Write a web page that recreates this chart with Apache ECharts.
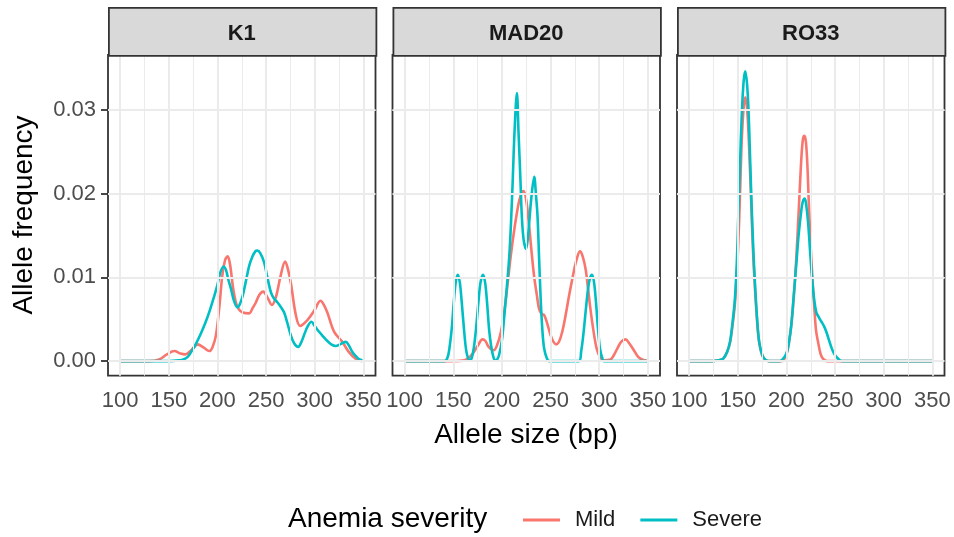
<!DOCTYPE html>
<html>
<head>
<meta charset="utf-8">
<script src="https://cdn.jsdelivr.net/npm/echarts@6/dist/echarts.min.js"></script>
<style>
  html, body { margin: 0; padding: 0; background: #fff; }
  #chart { width: 954px; height: 537px; }
</style>
</head>
<body>
<div id="chart"></div>
<script>
// facets and tick values
const panels = ['K1', 'MAD20', 'RO33']
const xTicks = [100, 150, 200, 250, 300, 350]
const xMinor = [125, 175, 225, 275, 325]
const yTicks = [0, 0.01, 0.02, 0.03]
const yMinor = [0.005, 0.015, 0.025, 0.035]

// density curves: [allele size, frequency]
const k1Mild = [[100,0],[130,0],[140,0.0002],[148,0.0008],[155.7,0.0012],[162,0.0009],[167,0.0008],[173,0.0013],[179.7,0.002],[186,0.0016],[191.6,0.0012],[195,0.0017],[198.5,0.0031],[202,0.0065],[205,0.0102],[208,0.0121],[210.5,0.0125],[213,0.0115],[216,0.0088],[219,0.007],[222,0.0062],[226,0.0058],[232.7,0.0057],[236,0.0063],[239.5,0.007],[243,0.0079],[247,0.0083],[251,0.0077],[256,0.0067],[260,0.0076],[265,0.0102],[269.6,0.0119],[272,0.0112],[275.4,0.0094],[280.6,0.0055],[285,0.0042],[292.5,0.0049],[299.4,0.006],[306,0.0072],[309,0.0068],[313,0.0058],[320,0.0035],[328.4,0.0023],[335,0.0011],[342,0.0003],[349,0]]
const k1Severe = [[100,0],[150,0],[161,0.0001],[165,0.0002],[169.4,0.0005],[173,0.0011],[178,0.0021],[183,0.0033],[188,0.0047],[192,0.006],[196.8,0.0078],[200,0.0091],[203,0.0106],[206.4,0.0113],[209,0.0108],[211,0.0098],[214,0.0086],[217,0.0072],[220.7,0.0064],[223,0.0068],[226,0.0078],[229,0.0094],[232.7,0.0114],[236,0.0125],[239,0.0131],[241,0.0132],[244,0.0129],[248,0.0118],[251,0.0102],[255,0.0082],[258,0.0075],[261.8,0.007],[265,0.0065],[268.6,0.0058],[272,0.0045],[275.4,0.0031],[279,0.0021],[283,0.0017],[286,0.0022],[289,0.0031],[293,0.0042],[296.6,0.0047],[300,0.0042],[304.5,0.0035],[309,0.0029],[313,0.0024],[317,0.002],[321.6,0.0018],[326,0.002],[329,0.0022],[332,0.0023],[335,0.0019],[338.7,0.0011],[343,0.0005],[346,0.0002],[349,0.0001]]
const mad20Mild = [[100,0],[150,0],[161.5,0.0001],[166,0.0004],[170,0.0009],[175,0.0018],[180,0.0026],[183,0.0024],[186.4,0.0017],[191.5,0.0013],[195,0.0019],[199,0.0035],[202.5,0.006],[206,0.0094],[209,0.0125],[212.7,0.0157],[216,0.0181],[219,0.0197],[222.3,0.0203],[225,0.0192],[228,0.0161],[230.5,0.013],[233,0.0102],[236,0.0078],[238.3,0.0062],[241,0.0056],[243.4,0.0055],[246.5,0.0045],[250,0.0031],[253,0.0023],[256,0.002],[259,0.0024],[262,0.0035],[265.5,0.0055],[269,0.0078],[272.5,0.0099],[276,0.0118],[280.3,0.0131],[283,0.0125],[286,0.011],[288.5,0.0087],[291,0.0062],[294,0.0037],[297.4,0.0015],[301,0.0005],[305,0.0001],[311.7,0.0002],[315,0.0007],[318.6,0.0015],[322.5,0.0023],[327,0.0026],[331,0.0021],[335.6,0.0013],[340,0.0005],[344,0.0002],[350,0]]
const mad20Severe = [[100,0],[141,0],[144,0.0004],[146,0.0015],[148.5,0.004],[150.5,0.007],[152.5,0.0094],[154.6,0.0103],[156.7,0.0094],[158.7,0.007],[161,0.0038],[163,0.0015],[165,0.0004],[167,0.0001],[169,0.0004],[171,0.0015],[173.5,0.004],[175.8,0.007],[178,0.0094],[180.6,0.0103],[182.7,0.0094],[184.7,0.007],[186.8,0.0038],[188.8,0.0019],[191,0.0006],[193,0.0001],[195,0.0002],[197,0.0007],[200,0.0025],[202.5,0.0055],[205,0.0088],[207.6,0.0126],[209.5,0.017],[211,0.0213],[213,0.0275],[215.4,0.032],[217,0.0275],[218.9,0.022],[220.5,0.0172],[222.3,0.0145],[224.7,0.0134],[226.5,0.0145],[228,0.0165],[230.5,0.0198],[233.2,0.022],[235,0.0198],[236.6,0.0173],[238.3,0.012],[240,0.007],[241.7,0.0035],[243.4,0.0015],[246,0.0004],[248.6,0],[279,0],[281.5,0.0012],[284,0.0035],[286.3,0.0062],[288.5,0.0086],[290.5,0.0099],[292.6,0.0103],[294.7,0.0094],[296.7,0.007],[298.8,0.0038],[300.8,0.0015],[303,0.0004],[305,0],[350,0]]
const ro33Mild = [[100,0],[125,0],[130,0.0001],[135,0.0003],[139,0.0011],[142,0.0022],[144.5,0.0042],[147,0.0068],[149,0.0105],[150.5,0.014],[152.3,0.02],[154,0.0262],[156,0.0303],[157.7,0.0315],[159.5,0.0302],[161,0.0272],[162.5,0.023],[164,0.0182],[165.8,0.0128],[167.6,0.0088],[170,0.0045],[172,0.0022],[175,0.0007],[178,0.0002],[182,0],[195,0],[198,0.0003],[201,0.0012],[203,0.0025],[205,0.0043],[207.5,0.0076],[210.3,0.0126],[212,0.0165],[213.7,0.0205],[215.5,0.0245],[217,0.0265],[218.5,0.0269],[220,0.0262],[221.5,0.0235],[223,0.0189],[225,0.0135],[227,0.0094],[229,0.0058],[230.5,0.0036],[232.5,0.0023],[235,0.0009],[237.5,0.0003],[242,0],[350,0]]
const ro33Severe = [[100,0],[125,0],[130,0.0001],[135,0.0003],[139,0.0011],[142,0.0023],[144.5,0.0045],[147,0.0074],[149,0.0118],[150.5,0.0173],[152.3,0.0235],[154,0.0292],[156,0.0334],[157.7,0.0346],[159.5,0.0331],[161,0.03],[162.5,0.0248],[164,0.0193],[165.8,0.0137],[167.6,0.0094],[170,0.0048],[172,0.0023],[175,0.0008],[178,0.0002],[182,0],[193,0],[196,0.0002],[200,0.0009],[202.5,0.0022],[205,0.0043],[207.5,0.0078],[210.3,0.0118],[212.5,0.015],[215.4,0.0181],[217,0.0191],[218.9,0.0194],[220.5,0.0185],[222.3,0.0165],[224.5,0.0128],[226.7,0.0094],[228.7,0.0072],[230.8,0.0058],[233.5,0.0052],[236,0.0047],[238.5,0.0042],[241,0.0035],[243.5,0.0026],[246,0.0017],[248.5,0.001],[251.3,0.0005],[255,0.0001],[258,0],[350,0]]

const mildData = [k1Mild, mad20Mild, ro33Mild]
const severeData = [k1Severe, mad20Severe, ro33Severe]

const FONT = '"Liberation Sans", Arial, sans-serif'
const MILD = '#F8766D'
const SEVERE = '#00BFC4'

// panel geometry
const panelLeft = [108, 392.5, 677]
const panelW = 267.5
const panelTop = 55
const panelH = 320.7
const stripTop = 7

const chart = echarts.init(document.getElementById('chart'), null, { renderer: 'canvas' })

const grids = [], xAxes = [], yAxes = [], series = [], graphics = []

const gridLines = () => [
  ...xTicks.map(v => ({ xAxis: v, lineStyle: { color: '#ebebeb', width: 2, type: 'solid' } })),
  ...xMinor.map(v => ({ xAxis: v, lineStyle: { color: '#ebebeb', width: 1, type: 'solid' } })),
  ...yTicks.map(v => ({ yAxis: v, lineStyle: { color: '#ebebeb', width: 2, type: 'solid' } })),
  ...yMinor.map(v => ({ yAxis: v, lineStyle: { color: '#ebebeb', width: 1, type: 'solid' } }))
]

panels.forEach((name, i) => {
  grids.push({
    left: panelLeft[i], top: panelTop, width: panelW, height: panelH,
    show: true, borderColor: '#333333', borderWidth: 1.8, backgroundColor: 'transparent'
  })
  xAxes.push({
    gridIndex: i, type: 'value', min: 87.5, max: 362.5,
    axisLine: { show: false },
    axisTick: { show: true, customValues: xTicks, length: 7, lineStyle: { color: '#333333', width: 1.8 } },
    axisLabel: { customValues: xTicks, margin: 14, fontSize: 22, color: '#4d4d4d', fontFamily: FONT },
    splitLine: { show: false }
  })
  yAxes.push({
    gridIndex: i, type: 'value', min: -0.00174, max: 0.03654,
    axisLine: { show: false },
    axisTick: { show: i === 0, customValues: yTicks, length: 7, lineStyle: { color: '#333333', width: 1.8 } },
    axisLabel: {
      show: i === 0, customValues: yTicks, margin: 12, fontSize: 22, color: '#4d4d4d', fontFamily: FONT,
      formatter: v => v.toFixed(2)
    },
    splitLine: { show: false }
  })
  // background grid lines
  series.push({
    type: 'line', xAxisIndex: i, yAxisIndex: i, data: [[100, 0]], silent: true, z: 1,
    showSymbol: false, lineStyle: { opacity: 0 },
    markLine: { silent: true, symbol: 'none', animation: false, label: { show: false }, data: gridLines() }
  })
  series.push({
    name: 'Mild', type: 'line', xAxisIndex: i, yAxisIndex: i, data: mildData[i],
    smooth: 0.35, showSymbol: false, z: 3, color: MILD,
    lineStyle: { color: MILD, width: 2.6 }
  })
  series.push({
    name: 'Severe', type: 'line', xAxisIndex: i, yAxisIndex: i, data: severeData[i],
    smooth: 0.35, showSymbol: false, z: 4, color: SEVERE,
    lineStyle: { color: SEVERE, width: 2.6 }
  })
  // facet strip
  graphics.push({
    type: 'rect', left: panelLeft[i], top: stripTop, z: 10,
    shape: { width: panelW, height: panelTop - stripTop },
    style: { fill: '#d9d9d9', stroke: '#333333', lineWidth: 1.8 }
  })
  graphics.push({
    type: 'text', x: panelLeft[i] + panelW / 2, y: (stripTop + panelTop) / 2 + 3, z: 11,
    style: { text: name, font: 'bold 22px ' + FONT, fill: '#1a1a1a', textAlign: 'center', textVerticalAlign: 'middle' }
  })
})

// axis titles and legend title
graphics.push({
  type: 'text', x: 526, y: 435, z: 11,
  style: { text: 'Allele size (bp)', font: '28px ' + FONT, fill: '#000', textAlign: 'center', textVerticalAlign: 'middle' }
})
graphics.push({
  type: 'text', x: 24, y: 215, rotation: Math.PI / 2, z: 11,
  style: { text: 'Allele frequency', font: '28px ' + FONT, fill: '#000', textAlign: 'center', textVerticalAlign: 'middle' }
})
graphics.push({
  type: 'text', x: 288, y: 519, z: 11,
  style: { text: 'Anemia severity', font: '28px ' + FONT, fill: '#000', textAlign: 'left', textVerticalAlign: 'middle' }
})

chart.setOption({
  animation: false,
  backgroundColor: '#ffffff',
  grid: grids,
  xAxis: xAxes,
  yAxis: yAxes,
  legend: {
    data: ['Mild', 'Severe'],
    left: 518, top: 502,
    icon: 'rect', itemWidth: 37, itemHeight: 3, itemGap: 25,
    textStyle: { fontSize: 22, color: '#1a1a1a', fontFamily: FONT, padding: [0, 0, 0, 10], lineHeight: 26 }
  },
  series: series,
  graphic: graphics
})

window.addEventListener('resize', () => chart.resize())
</script>
</body>
</html>
